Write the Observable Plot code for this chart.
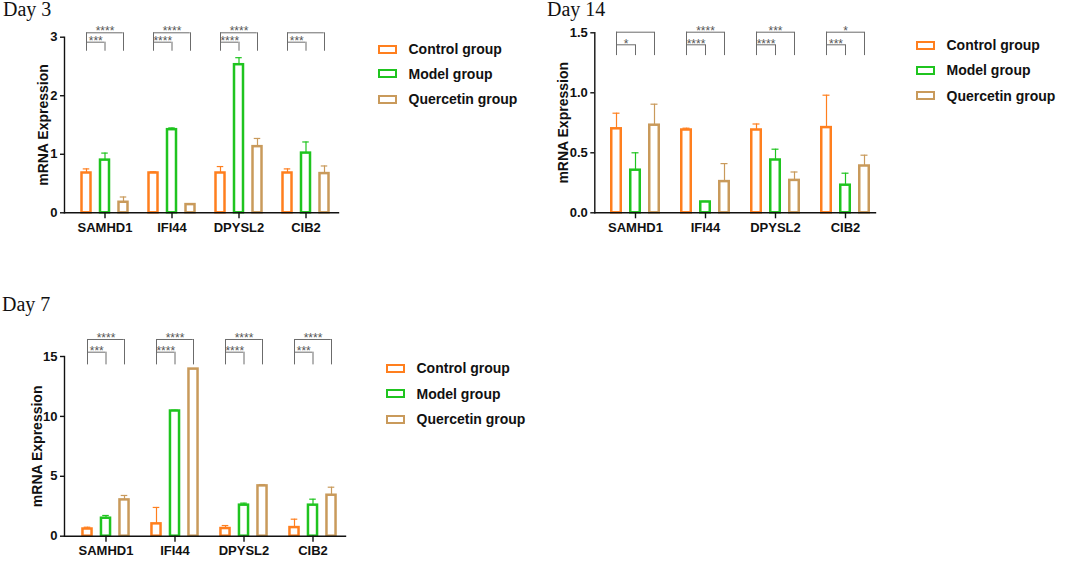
<!DOCTYPE html>
<html><head><meta charset="utf-8">
<script src="https://cdn.jsdelivr.net/npm/d3@7"></script>
<script src="https://cdn.jsdelivr.net/npm/@observablehq/plot@0.6"></script>
<style>
body{margin:0;background:#fff;width:1065px;height:562px;position:relative;overflow:hidden;font-family:"Liberation Sans",Arial,sans-serif}
.panel{position:absolute}
.title{position:absolute;font-family:"Liberation Serif","Times New Roman",serif;font-size:20px;line-height:16px;color:#111;white-space:nowrap}
.row{position:absolute;display:flex;align-items:center;height:20px;white-space:nowrap;font-weight:bold;font-size:14px;color:#111}
.sw{box-sizing:border-box;width:19px;height:9px;border:2.5px solid;background:#fff;margin-right:11.5px}
</style></head><body>
<script>
// ---- data ----
const genes = ["SAMHD1", "IFI44", "DPYSL2", "CIB2"];
const groups = ["Control group", "Model group", "Quercetin group"];
const colors = ["#ff7f1e", "#1fc41f", "#c99a5b"];
const yLabel = "mRNA Expression";

// Day 3
const day3Control = [0.68, 0.68, 0.68, 0.68];
const day3ControlErr = [0.07, 0.02, 0.11, 0.07];
const day3Model = [0.90, 1.42, 2.53, 1.02];
const day3ModelErr = [0.12, 0.03, 0.12, 0.19];
const day3Quercetin = [0.18, 0.14, 1.13, 0.67];
const day3QuercetinErr = [0.09, 0.01, 0.14, 0.13];
const day3OuterSig = ["****", "****", "****", ""];
const day3InnerSig = ["***", "****", "****", "***"];
const day3Brackets = [3.075, 2.915, 2.76]; // outer, inner, base (data units)
const day3Ticks = [0, 1, 2, 3];

// Day 14
const day14Control = [0.70, 0.69, 0.69, 0.71];
const day14ControlErr = [0.13, 0.015, 0.05, 0.27];
const day14Model = [0.355, 0.09, 0.44, 0.23];
const day14ModelErr = [0.145, 0.005, 0.09, 0.10];
const day14Quercetin = [0.73, 0.26, 0.27, 0.39];
const day14QuercetinErr = [0.175, 0.15, 0.07, 0.09];
const day14OuterSig = ["", "****", "***", "*"];
const day14InnerSig = ["*", "****", "****", "***"];
const day14Brackets = [1.505, 1.40, 1.31];
const day14Ticks = [0, 0.5, 1.0, 1.5];

// Day 7
const day7Control = [0.60, 1.03, 0.64, 0.72];
const day7ControlErr = [0.15, 1.37, 0.25, 0.70];
const day7Model = [1.50, 10.45, 2.59, 2.59];
const day7ModelErr = [0.23, 0.07, 0.17, 0.50];
const day7Quercetin = [3.03, 13.95, 4.20, 3.42];
const day7QuercetinErr = [0.37, 0.04, 0.11, 0.67];
const day7OuterSig = ["****", "****", "****", "****"];
const day7InnerSig = ["***", "****", "****", "***"];
const day7Brackets = [16.42, 15.36, 14.3];
const day7Ticks = [0, 5, 10, 15];

function rows(vals, errs) {
  return genes.map((g, i) => ({gene: g, value: vals[i], err: errs[i]}));
}

function makePanel(cfg) {
  const series = [
    rows(cfg.control, cfg.controlErr),
    rows(cfg.model, cfg.modelErr),
    rows(cfg.quercetin, cfg.quercetinErr)
  ];
  const br = genes.map((g, i) => ({
    gene: g, outer: cfg.brackets[0], inner: cfg.brackets[1], base: cfg.brackets[2],
    outerLab: cfg.outerSig[i], innerLab: cfg.innerSig[i]
  }));
  const step = (cfg.xRange[1] - cfg.xRange[0]) / genes.length;
  const off = cfg.offset;
  const offs = [-off, 0, off];
  const barW = 9.5, capW = 7;
  const barIns = (step - barW) / 2, capIns = (step - capW) / 2;
  const half = step / 2;
  const marks = [];
  series.forEach((d, gi) => {
    marks.push(Plot.barY(d, {x: "gene", y: "value", fill: "white", stroke: colors[gi], strokeWidth: 2.5,
      insetLeft: barIns, insetRight: barIns, dx: offs[gi]}));
    marks.push(Plot.ruleX(d, {x: "gene", y1: "value", y2: r => r.value + r.err, stroke: colors[gi], strokeWidth: 1.2, dx: offs[gi]}));
    marks.push(Plot.tickY(d, {x: "gene", y: r => r.value + r.err, stroke: colors[gi], strokeWidth: 1.2,
      insetLeft: capIns, insetRight: capIns, dx: offs[gi]}));
  });
  const bc = "#6b6b6b";
  marks.push(
    Plot.ruleY(br, {x1: "gene", x2: "gene", y: "outer", stroke: bc, strokeWidth: 1, insetLeft: half - off, insetRight: half - off}),
    Plot.ruleY(br, {x1: "gene", x2: "gene", y: "inner", stroke: bc, strokeWidth: 1, insetLeft: half - off, insetRight: half}),
    Plot.ruleX(br, {x: "gene", y1: "base", y2: "outer", stroke: bc, strokeWidth: 1, dx: -off}),
    Plot.ruleX(br, {x: "gene", y1: "base", y2: "inner", stroke: bc, strokeWidth: 1, dx: 0}),
    Plot.ruleX(br, {x: "gene", y1: "base", y2: "outer", stroke: bc, strokeWidth: 1, dx: off}),
    Plot.text(br, {x: "gene", y: "outer", text: "outerLab", lineAnchor: "bottom", dy: 2.5, fontSize: 12, fontWeight: "normal", fill: "#555"}),
    Plot.text(br, {x: "gene", y: "inner", text: "innerLab", lineAnchor: "bottom", dy: 3, dx: -off / 2, fontSize: 12, fontWeight: "normal", fill: "#555"}),
    Plot.frame({anchor: "left", stroke: "#111", strokeWidth: 1.4}),
    Plot.frame({anchor: "bottom", stroke: "#111", strokeWidth: 1.4}),
    Plot.axisY({ticks: cfg.ticks, tickFormat: cfg.tickFormat, tickSize: 4, tickPadding: 3, label: null, stroke: "#111", strokeWidth: 1.4, fill: "#111"}),
    Plot.axisX({tickSize: 6, tickPadding: 4, label: null, stroke: "#111", strokeWidth: 1.4, fill: "#111"}),
    Plot.text([yLabel], {frameAnchor: "left", textAnchor: "middle", rotate: -90, dx: cfg.labelDx, fontSize: 14, fontWeight: "bold", fill: "#111"})
  );
  const svg = Plot.plot({
    width: cfg.width, height: cfg.height,
    marginLeft: cfg.mL, marginRight: cfg.mR, marginTop: cfg.mT, marginBottom: cfg.mB,
    style: {fontFamily: "'Liberation Sans', Arial, sans-serif", fontSize: "13px", fontWeight: "bold", background: "transparent", overflow: "visible"},
    x: {domain: genes, range: cfg.xRange, padding: 0},
    y: {domain: cfg.yDomain},
    marks
  });
  const div = document.createElement("div");
  div.className = "panel";
  div.style.left = cfg.left + "px";
  div.style.top = cfg.top + "px";
  div.appendChild(svg);
  document.body.appendChild(div);

  const t = document.createElement("div");
  t.className = "title";
  t.textContent = cfg.title;
  t.style.left = cfg.titleX + "px";
  t.style.top = cfg.titleY + "px";
  document.body.appendChild(t);

  groups.forEach((g, gi) => {
    const r = document.createElement("div");
    r.className = "row";
    r.style.left = cfg.legX + "px";
    r.style.top = (cfg.legY[gi] - 10) + "px";
    const sw = document.createElement("span");
    sw.className = "sw";
    sw.style.borderColor = colors[gi];
    r.appendChild(sw);
    r.appendChild(document.createTextNode(g));
    document.body.appendChild(r);
  });
}

makePanel({
  title: "Day 3", titleX: 3, titleY: 1,
  control: day3Control, controlErr: day3ControlErr, model: day3Model, modelErr: day3ModelErr,
  quercetin: day3Quercetin, quercetinErr: day3QuercetinErr,
  outerSig: day3OuterSig, innerSig: day3InnerSig, brackets: day3Brackets,
  ticks: day3Ticks, tickFormat: d3.format("d"), yDomain: [0, 3],
  left: 0, top: 0, width: 345, height: 250, mL: 64, mR: 7, mT: 36.7, mB: 37.7,
  xRange: [70.25, 340.25], offset: 18.5, labelDx: -21,
  legX: 378, legY: [49, 73.5, 99]
});

makePanel({
  title: "Day 14", titleX: 547, titleY: 1,
  control: day14Control, controlErr: day14ControlErr, model: day14Model, modelErr: day14ModelErr,
  quercetin: day14Quercetin, quercetinErr: day14QuercetinErr,
  outerSig: day14OuterSig, innerSig: day14InnerSig, brackets: day14Brackets,
  ticks: day14Ticks, tickFormat: d3.format(".1f"), yDomain: [0, 1.5],
  left: 530, top: 0, width: 352, height: 250, mL: 64.3, mR: 7, mT: 32.3, mB: 37.7,
  xRange: [70, 350], offset: 19, labelDx: -31,
  legX: 916, legY: [45, 70, 95.5]
});

makePanel({
  title: "Day 7", titleX: 2, titleY: 296,
  control: day7Control, controlErr: day7ControlErr, model: day7Model, modelErr: day7ModelErr,
  quercetin: day7Quercetin, quercetinErr: day7QuercetinErr,
  outerSig: day7OuterSig, innerSig: day7InnerSig, brackets: day7Brackets,
  ticks: day7Ticks, tickFormat: d3.format("d"), yDomain: [0, 15],
  left: 0, top: 300, width: 352, height: 262, mL: 64, mR: 7, mT: 56, mB: 26.3,
  xRange: [70.3, 348], offset: 18.5, labelDx: -27,
  legX: 386, legY: [368, 393.5, 419]
});
</script>
</body></html>
